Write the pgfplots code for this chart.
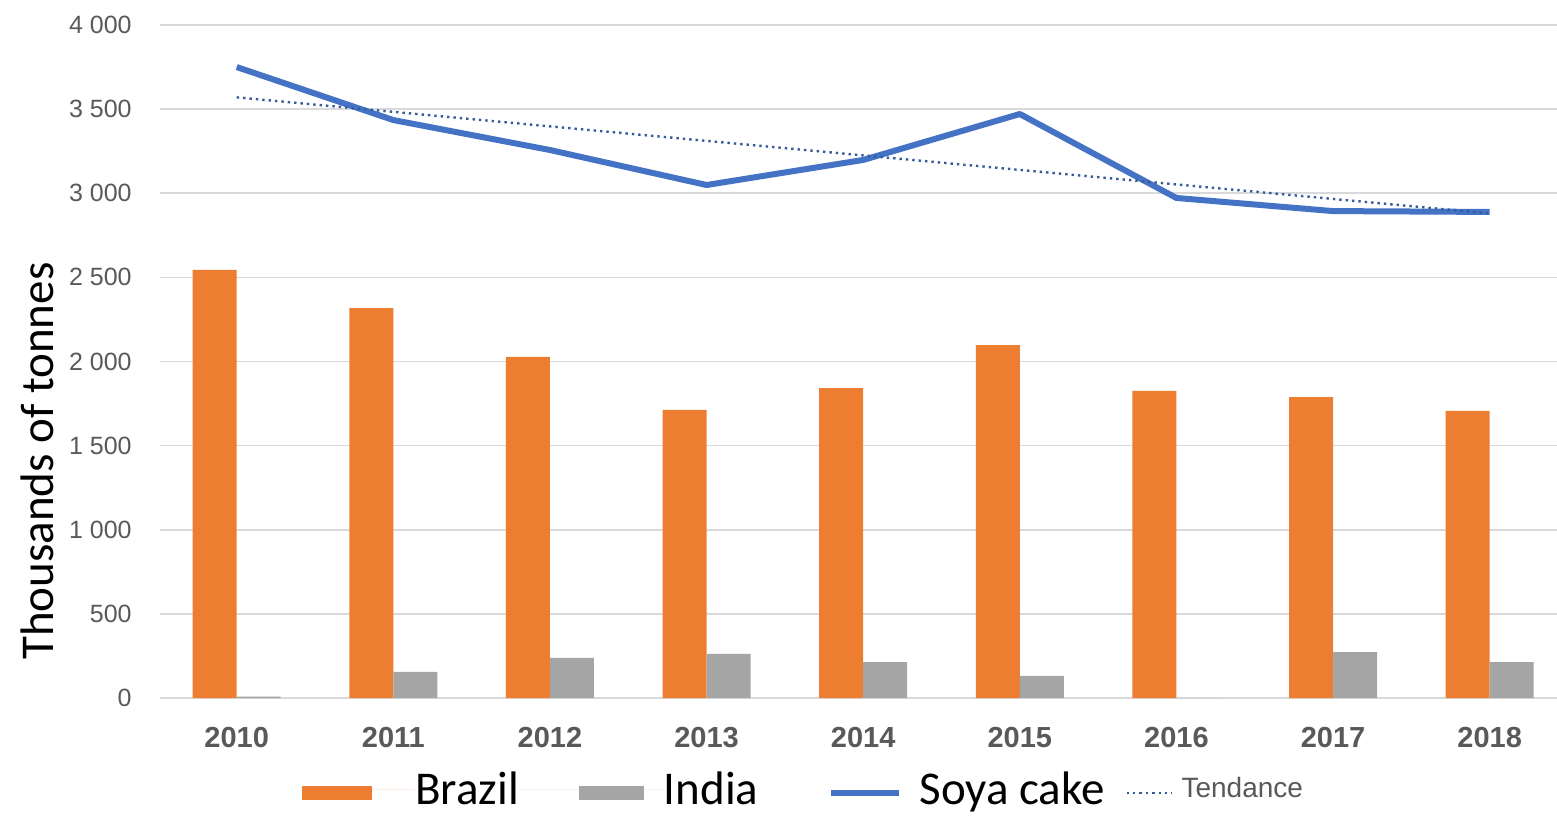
\documentclass[border=0pt]{standalone}
\usepackage{pgfplots}
\pgfplotsset{compat=1.18}
\usepackage{fontspec}
\setmainfont{Liberation Sans}
\newfontfamily\calibri{Carlito}
\definecolor{cOrange}{HTML}{ED7D31}
\definecolor{cGray}{HTML}{A5A5A5}
\definecolor{cBlue}{HTML}{4472C4}
\definecolor{cGrid}{HTML}{D9D9D9}
\definecolor{cTick}{HTML}{595959}
\begin{document}
\begin{tikzpicture}
\useasboundingbox (-80pt,-59pt) rectangle (698.5pt,349pt);
\begin{axis}[
    width=698.5pt, height=336.5pt,
    scale only axis,
    ybar,
    bar width=22pt,
    xmin=-0.49, xmax=8.43,
    ymin=0, ymax=4000,
    xtick={0,1,2,3,4,5,6,7,8},
    xticklabels={2010,2011,2012,2013,2014,2015,2016,2017,2018},
    ytick={0,500,1000,1500,2000,2500,3000,3500,4000},
    yticklabels={0,500,1 000,1 500,2 000,2 500,3 000,3 500,4 000},
    major tick length=0pt,
    axis line style={draw=none},
    ymajorgrids=true,
    major grid style={color=cGrid, line width=0.8pt},
    yticklabel style={font=\fontsize{12.5}{14}\selectfont, color=cTick, inner sep=0pt, anchor=east, xshift=-14pt},
    xticklabel style={font=\bfseries\fontsize{14.5}{16}\selectfont, color=cTick, inner sep=0pt, anchor=north, yshift=-14.5pt},
    ylabel={Thousands of tonnes},
    ylabel style={font=\calibri\fontsize{23.5}{28}\selectfont, at={(axis description cs:-0.088,0.352)}, anchor=center},
    legend columns=4,
    legend cell align=left,
    legend style={at={(axis description cs:0.46,-0.1355)}, anchor=center, draw=none, fill=none, inner sep=0pt,
        nodes={inner sep=0pt},
        /tikz/every odd column/.append style={column sep=0pt},
        /tikz/every even column/.append style={column sep=0pt}},
]
\addplot[fill=cOrange, draw=none, bar shift=-11pt,
    legend image code/.code={\fill[cOrange] (0pt,-5.5pt) rectangle (35pt,1.5pt); \path[draw=none] (35pt,0pt) -- (56.5pt,0pt);}]
    coordinates {(0,2544)(1,2318)(2,2027)(3,1712)(4,1842)(5,2098)(6,1825)(7,1789)(8,1706)};
\addlegendentry{\calibri\fontsize{23.5}{28}\selectfont Brazil}
\addplot[fill=cGray, draw=none, bar shift=11pt,
    legend image code/.code={\path[draw=none] (-30pt,0pt) -- (0pt,0pt); \fill[cGray] (0pt,-5.5pt) rectangle (32.5pt,1.5pt); \path[draw=none] (32.5pt,0pt) -- (42.5pt,0pt);}]
    coordinates {(0,8)(1,155)(2,238)(3,262)(4,214)(5,131)(6,0)(7,273)(8,214)};
\addlegendentry{\calibri\fontsize{23.5}{28}\selectfont India}
\addplot[sharp plot, color=cBlue, line width=3pt, line join=round,
    legend image code/.code={\path[draw=none] (-36.5pt,0pt) -- (0pt,0pt); \draw[cBlue, line width=3pt] (0pt,-2pt) -- (34pt,-2pt); \path[draw=none] (34pt,0pt) -- (44pt,0pt);}]
    coordinates {(0,3750)(1,3435)(2,3257)(3,3049)(4,3198)(5,3471)(6,2972)(7,2894)(8,2889)};
\addlegendentry{\calibri\fontsize{23.5}{28}\selectfont Soya cake}
\addplot[sharp plot, color=cBlue!80!black, line width=1.2pt, dotted,
    legend image code/.code={\path[draw=none] (-11pt,0pt) -- (0pt,0pt); \draw[cBlue!80!black, line width=1.2pt, dotted] (0pt,-2pt) -- (22.5pt,-2pt); \path[draw=none] (22.5pt,0pt) -- (27.5pt,0pt);}]
    coordinates {(0,3570)(8,2880)};
\addlegendentry{\color{cTick}\fontsize{14}{16}\selectfont Tendance}
\end{axis}
\end{tikzpicture}
\end{document}
